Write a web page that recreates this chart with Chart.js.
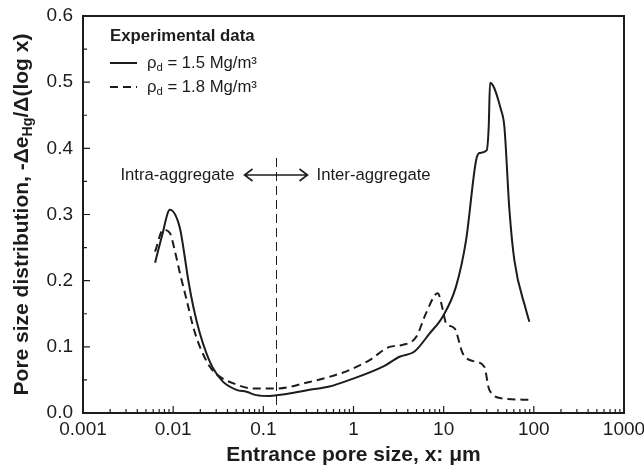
<!DOCTYPE html>
<html>
<head>
<meta charset="utf-8">
<script src="https://cdn.jsdelivr.net/npm/chart.js@4"></script>
<style>
  html, body { margin: 0; padding: 0; background: #fff; }
  #wrap { width: 644px; height: 473px; }
</style>
</head>
<body>
<div id="wrap"><canvas id="chart_canvas" width="644" height="473"></canvas></div>
<script>
// data
const solid_x = [0.0063, 0.0075, 0.0092, 0.0119, 0.0131, 0.0147, 0.0167, 0.0198, 0.0234, 0.0277,
    0.0358, 0.0504, 0.065, 0.0838, 0.1175, 0.18, 0.326, 0.54, 0.906, 2.12, 3.24, 4.75, 6.96,
    9.78, 13.7, 17.7, 22.9, 24.9, 30.0, 31.6, 32.7, 43.3, 47.1, 53.6, 60.8, 81.8, 89.1];
const solid_y = [0.227, 0.267, 0.307, 0.279, 0.246, 0.201, 0.161, 0.120, 0.090, 0.0675,
    0.047, 0.035, 0.032, 0.027, 0.0257, 0.0287, 0.035, 0.040, 0.050, 0.070, 0.085, 0.093, 0.120,
    0.146, 0.191, 0.261, 0.382, 0.393, 0.397, 0.433, 0.499, 0.458, 0.433, 0.307, 0.231, 0.156, 0.138];

const dashed_x = [0.0063, 0.00775, 0.0092, 0.0104, 0.0119, 0.0141, 0.0167, 0.0198, 0.0255, 0.0329,
    0.0461, 0.077, 0.14, 0.326, 0.55, 0.906, 1.51, 2.51, 3.52, 4.96, 6.38, 8.6, 9.78, 10.6,
    13.2, 16.3, 21.9, 28.2, 32.1, 45.2, 89.1];
const dashed_y = [0.244, 0.277, 0.272, 0.246, 0.211, 0.171, 0.130, 0.100, 0.070, 0.055,
    0.045, 0.037, 0.037, 0.047, 0.055, 0.065, 0.080, 0.100, 0.103, 0.115, 0.151, 0.181, 0.156, 0.136,
    0.128, 0.090, 0.078, 0.070, 0.035, 0.022, 0.020];

const x_tick_values = [0.001, 0.01, 0.1, 1, 10, 100, 1000];
const x_tick_labels = ['0.001', '0.01', '0.1', '1', '10', '100', '1000'];
const y_tick_values = [0, 0.1, 0.2, 0.3, 0.4, 0.5, 0.6];
const y_tick_labels = ['0.0', '0.1', '0.2', '0.3', '0.4', '0.5', '0.6'];

const boundary_x = 0.14;   // intra / inter aggregate boundary

const INK = '#1c1c1c';
const FONT = "'Liberation Sans', Arial, sans-serif";

function to_points(xs, ys) {
    let pts = [];
    for (let i = 0; i < xs.length; i++) {
        pts.push({x: xs[i], y: ys[i]});
    }
    return pts;
}

// draws text pieces, some of them as subscripts
function draw_rich(ctx, parts, x, y, size, weight, align) {
    let total = 0;
    parts.forEach(p => {
        ctx.font = weight + ' ' + (p.sub ? size * 0.68 : size) + 'px ' + FONT;
        p.w = ctx.measureText(p.t).width;
        total += p.w;
    });
    let cx = x;
    if (align === 'center') cx = x - total / 2;
    if (align === 'right') cx = x - total;
    parts.forEach(p => {
        ctx.font = weight + ' ' + (p.sub ? size * 0.68 : size) + 'px ' + FONT;
        ctx.fillText(p.t, cx, p.sub ? y + size * 0.3 : y);
        cx += p.w;
    });
}

const decor_plugin = {
    id: 'decor',
    afterDraw: (chart) => {
        const ctx = chart.ctx;
        const a = chart.chartArea;
        const xs = chart.scales.x;
        const ys = chart.scales.y;
        ctx.save();
        ctx.strokeStyle = INK;
        ctx.fillStyle = INK;

        // inward tick marks
        ctx.lineWidth = 1.2;
        ctx.beginPath();
        for (let k = -3; k <= 3; k++) {
            let px = xs.getPixelForValue(Math.pow(10, k));
            ctx.moveTo(px, a.bottom);
            ctx.lineTo(px, a.bottom - 7);
            if (k < 3) {
                for (let m = 2; m <= 9; m++) {
                    let mx = xs.getPixelForValue(m * Math.pow(10, k));
                    ctx.moveTo(mx, a.bottom);
                    ctx.lineTo(mx, a.bottom - 4);
                }
            }
        }
        for (let j = 0; j <= 12; j++) {
            let py = ys.getPixelForValue(j * 0.05);
            ctx.moveTo(a.left, py);
            ctx.lineTo(a.left + (j % 2 === 0 ? 7 : 4), py);
        }
        ctx.stroke();

        // frame
        ctx.lineWidth = 2;
        ctx.strokeRect(a.left, a.top, a.right - a.left, a.bottom - a.top);

        // boundary line
        let bx = xs.getPixelForValue(boundary_x);
        ctx.lineWidth = 1;
        ctx.setLineDash([9, 5]);
        ctx.beginPath();
        ctx.moveTo(bx, 158);
        ctx.lineTo(bx, a.bottom);
        ctx.stroke();
        ctx.setLineDash([]);

        // double arrow
        let ay = 175;
        let l = bx - 32, r = bx + 31;
        ctx.lineWidth = 1.6;
        ctx.beginPath();
        ctx.moveTo(l, ay); ctx.lineTo(r, ay);
        ctx.moveTo(l + 8, ay - 6); ctx.lineTo(l, ay); ctx.lineTo(l + 8, ay + 6);
        ctx.moveTo(r - 8, ay - 6); ctx.lineTo(r, ay); ctx.lineTo(r - 8, ay + 6);
        ctx.stroke();

        ctx.textBaseline = 'middle';
        ctx.font = '16.7px ' + FONT;
        ctx.textAlign = 'right';
        ctx.fillText('Intra-aggregate', bx - 42, ay);
        ctx.textAlign = 'left';
        ctx.fillText('Inter-aggregate', bx + 40, ay);

        // legend
        ctx.font = 'bold 16.8px ' + FONT;
        ctx.fillText('Experimental data', 110, 36);
        ctx.lineWidth = 2;
        ctx.beginPath();
        ctx.moveTo(110, 63); ctx.lineTo(137, 63);
        ctx.stroke();
        ctx.setLineDash([8, 5]);
        ctx.beginPath();
        ctx.moveTo(110, 87); ctx.lineTo(137, 87);
        ctx.stroke();
        ctx.setLineDash([]);
        draw_rich(ctx, [{t: 'ρ'}, {t: 'd', sub: true}, {t: ' = 1.5 Mg/m³'}], 147, 63, 16.7, 'normal', 'left');
        draw_rich(ctx, [{t: 'ρ'}, {t: 'd', sub: true}, {t: ' = 1.8 Mg/m³'}], 147, 87, 16.7, 'normal', 'left');

        // axis titles
        ctx.font = 'bold 21px ' + FONT;
        ctx.textAlign = 'center';
        ctx.fillText('Entrance pore size, x: μm', (a.left + a.right) / 2, 455);

        ctx.translate(22, (a.top + a.bottom) / 2);
        ctx.rotate(-Math.PI / 2);
        ctx.textAlign = 'left';
        draw_rich(ctx, [{t: 'Pore size distribution, -Δe'}, {t: 'Hg', sub: true}, {t: '/Δ(log x)'}],
            0, 0, 21, 'bold', 'center');
        ctx.restore();
    }
};

const config = {
    type: 'line',
    data: {
        datasets: [{
            label: 'ρd = 1.5 Mg/m³',
            data: to_points(solid_x, solid_y),
            borderColor: INK,
            borderWidth: 2,
            pointRadius: 0,
            fill: false,
            cubicInterpolationMode: 'monotone'
        }, {
            label: 'ρd = 1.8 Mg/m³',
            data: to_points(dashed_x, dashed_y),
            borderColor: INK,
            borderWidth: 2,
            borderDash: [8, 5],
            pointRadius: 0,
            fill: false,
            cubicInterpolationMode: 'monotone'
        }]
    },
    options: {
        animation: false,
        responsive: false,
        layout: {padding: {left: 0, right: 20, top: 16, bottom: 0}},
        plugins: {
            legend: {display: false},
            tooltip: {enabled: false}
        },
        scales: {
            x: {
                type: 'logarithmic',
                min: 0.001,
                max: 1000,
                grid: {display: false, drawTicks: false},
                border: {display: false},
                afterBuildTicks: (scale) => {
                    scale.ticks = x_tick_values.map(v => ({value: v}));
                },
                afterFit: (scale) => {
                    scale.height = 60;
                    // let the last label run past the frame like in the original
                    scale.paddingLeft = 0;
                    scale.paddingRight = 0;
                },
                ticks: {
                    autoSkip: false,
                    maxRotation: 0,
                    padding: 5,
                    color: INK,
                    font: {family: FONT, size: 19},
                    callback: (val, i) => x_tick_labels[i]
                }
            },
            y: {
                type: 'linear',
                min: 0,
                max: 0.6,
                grid: {display: false, drawTicks: false},
                border: {display: false},
                afterBuildTicks: (scale) => {
                    scale.ticks = y_tick_values.map(v => ({value: v}));
                },
                afterFit: (scale) => {
                    scale.width = 83;
                    scale.paddingTop = 0;
                    scale.paddingBottom = 0;
                },
                ticks: {
                    padding: 10,
                    color: INK,
                    font: {family: FONT, size: 19},
                    callback: (val, i) => y_tick_labels[i]
                }
            }
        }
    },
    plugins: [decor_plugin]
};

new Chart(document.getElementById('chart_canvas').getContext('2d'), config);
</script>
</body>
</html>
